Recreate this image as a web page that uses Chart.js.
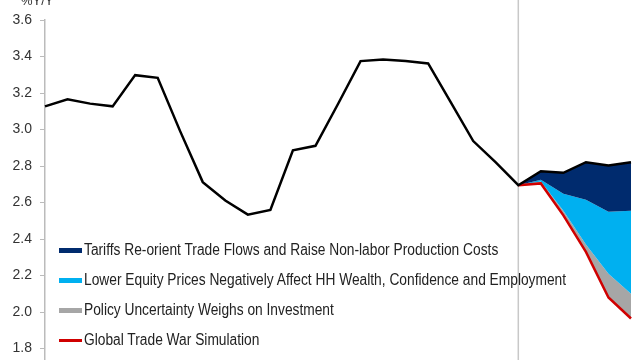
<!DOCTYPE html>
<html>
<head>
<meta charset="utf-8">
<script src="https://cdn.jsdelivr.net/npm/chart.js@4.4.1/dist/chart.umd.min.js"></script>
<style>
body{margin:0;background:#fff;}
#wrap{position:relative;width:640px;height:360px;overflow:hidden;font-family:"Liberation Sans",Arial,sans-serif;}
#mcnv{position:absolute;left:0;top:0;}
#unit{position:absolute;left:21px;top:-7px;font-size:13px;color:#333;}
#leg{position:absolute;left:59px;top:240px;}
.row{position:absolute;left:0;white-space:nowrap;color:#222;height:20px;}
.sw{position:absolute;left:0;width:23px;height:5px;}
.tx{position:absolute;left:25px;top:0;line-height:20px;font-size:16px;transform:scaleX(0.86);transform-origin:0 50%;}
</style>
</head>
<body>
<div id="wrap">
<canvas id="mcnv" width="640" height="378"></canvas>
<div id="unit">%Y/Y</div>
<div id="leg"></div>
</div>
<script>
// x positions (no labels shown), 22 history points + 5 forecast
var labels = [];
for (var i = 0; i < 27; i++) labels.push("p" + i);

var hist = [3.127,3.166,3.142,3.127,3.298,3.283,2.99,2.712,2.611,2.534,2.56,2.886,2.911,3.14,3.375,3.384,3.376,3.362,3.15,2.937,2.82,2.695];

// forecast, starting at last history point
var tariffTop = [2.695,2.772,2.763,2.821,2.803,2.821];
var equityTop = [2.695,2.725,2.648,2.615,2.55,2.555];
var policyTop = [2.695,2.715,2.555,2.37,2.21,2.10];
var tradeWar  = [2.695,2.705,2.53,2.33,2.08,1.965];

var yTicks = [1.8,2.0,2.2,2.4,2.6,2.8,3.0,3.2,3.4,3.6];

var legendNames = [
	"Tariffs Re-orient Trade Flows and Raise Non-labor Production Costs",
	"Lower Equity Prices Negatively Affect HH Wealth, Confidence and Employment",
	"Policy Uncertainty Weighs on Investment",
	"Global Trade War Simulation"
];
var legendColors = ["#002b6e","#00b0f0","#a6a6a6","#d00000"];

function pad(arr){
	var out = [];
	for (var i = 0; i < 21; i++) out.push(null);
	return out.concat(arr);
}

var blackLine = hist.concat(tariffTop.slice(1));

var chrtd = {
	labels: labels,
	datasets: [
	{ label:"US", data: blackLine, borderColor:"#000", borderWidth:2.5, pointRadius:0, fill:false, order:0 },
	{ label:legendNames[0], data: pad(tariffTop), borderWidth:0, borderColor:"rgba(0,0,0,0)", backgroundColor:legendColors[0], pointRadius:0, fill:"+1", order:2 },
	{ label:legendNames[1], data: pad(equityTop), borderWidth:0, borderColor:"rgba(0,0,0,0)", backgroundColor:legendColors[1], pointRadius:0, fill:"+1", order:2 },
	{ label:legendNames[2], data: pad(policyTop), borderWidth:0, borderColor:"rgba(0,0,0,0)", backgroundColor:legendColors[2], pointRadius:0, fill:"+1", order:2 },
	{ label:legendNames[3], data: pad(tradeWar), borderColor:legendColors[3], borderWidth:2.5, pointRadius:0, fill:false, order:1 }
	]
};

var vline = {
	id: "vline",
	beforeDatasetsDraw: function(chart){
		var c = chart.ctx;
		var x = chart.scales.x.getPixelForValue(21);
		c.save();
		c.strokeStyle = "#c8c8c8";
		c.lineWidth = 1.5;
		c.beginPath();
		c.moveTo(x, 0);
		c.lineTo(x, chart.height);
		c.stroke();
		c.restore();
	}
};

var ctx = document.getElementById("mcnv");
var lgj = new Chart(ctx, {
	type: "line",
	data: chrtd,
	plugins: [vline],
	options: {
		responsive: false,
		animation: false,
		layout: { padding: { top: 20, right: 9, bottom: 0, left: 0 } },
		elements: { line: { tension: 0 } },
		plugins: { legend: { display: false }, tooltip: { enabled: false } },
		scales: {
			x: { display: false, offset: false },
			y: {
				min: 1.729, max: 3.6,
				afterFit: function(s){ s.width = 45; },
				afterBuildTicks: function(s){ s.ticks = yTicks.map(function(v){ return { value: v }; }); },
				ticks: { color:"#333", padding: 8, font: { family:"Liberation Sans", size: 14 }, callback: function(v){ return v.toFixed(1); } },
				grid: { drawOnChartArea: false, drawTicks: true, tickLength: 5, color: "#bbb" },
				border: { color: "#bbb", width: 1.5 }
			}
		}
	}
});

var leg = document.getElementById("leg");
for (var k = 0; k < legendNames.length; k++){
	var row = document.createElement("div");
	row.className = "row";
	row.style.top = (k * 30) + "px";
	var sw = document.createElement("div");
	sw.className = "sw";
	sw.style.background = legendColors[k];
	sw.style.top = (k == 3 ? 9 : 8) + "px";
	if (k == 3) sw.style.height = "3px";
	var tx = document.createElement("div");
	tx.className = "tx";
	tx.textContent = legendNames[k];
	row.appendChild(sw);
	row.appendChild(tx);
	leg.appendChild(row);
}
</script>
</body>
</html>
